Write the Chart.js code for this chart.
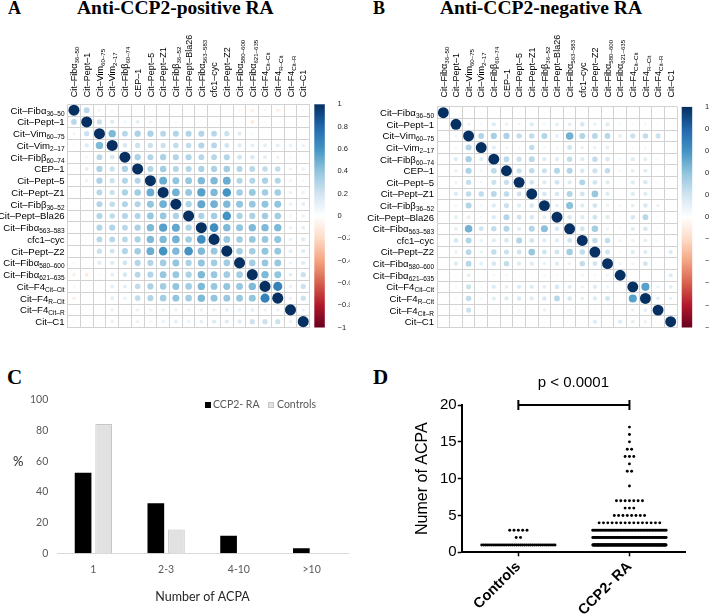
<!DOCTYPE html>
<html>
<head>
<meta charset="utf-8">
<title>ACPA correlation and counts</title>
<script src="https://cdn.jsdelivr.net/npm/chart.js@4.4.0/dist/chart.umd.min.js"></script>
<style>
    body { margin: 0; background: #fff; }
    #fig { position: relative; width: 709px; height: 614px; overflow: hidden; }
    #fig canvas { position: absolute; }
    .panel { position: absolute; font-family: "Liberation Serif", "Times New Roman", serif; font-weight: bold; white-space: nowrap; line-height: 1; color: #000; }
    .txt { position: absolute; white-space: nowrap; line-height: 1; }
    .key { position: absolute; width: 6px; height: 6px; }
</style>
</head>
<body>
<div id="fig">
    <div class="panel" style="left:8px; top:-1px; font-size:18px;">A</div>
    <div class="panel" style="left:77px; top:-2px; font-size:19.5px;">Anti-CCP2-positive RA</div>
    <div class="panel" style="left:373px; top:-1px; font-size:18px;">B</div>
    <div class="panel" style="left:440px; top:-2px; font-size:19.5px;">Anti-CCP2-negative RA</div>
    <div class="panel" style="left:7px; top:367px; font-size:21px;">C</div>
    <div class="panel" style="left:373px; top:367px; font-size:21px;">D</div>

    <canvas id="corr-pos" width="354" height="352" style="left:0; top:0;"></canvas>
    <canvas id="corr-neg" width="355" height="352" style="left:354px; top:0;"></canvas>
    <canvas id="acpa-bars" width="354" height="259" style="left:0; top:355px;"></canvas>
    <canvas id="acpa-dots" width="355" height="259" style="left:354px; top:355px;"></canvas>

    <!-- panel C extras -->
    <div class="txt" style="left:13px; top:455px; font-family:Lato, sans-serif; font-size:13px; color:#262626;">%</div>
    <div class="key" style="left:205px; top:402px; background:#000;"></div>
    <div class="txt" style="left:213px; top:399px; font-family:Lato, sans-serif; font-size:10.5px; color:#595959;">CCP2- RA</div>
    <div class="key" style="left:268px; top:402px; background:#e1e1e1; box-sizing:border-box; border:1px solid #c6c6c6;"></div>
    <div class="txt" style="left:277px; top:399px; font-family:Lato, sans-serif; font-size:10.5px; color:#595959;">Controls</div>
</div>

<script>
// --- Data ---

// antigen labels (main text + subscript)
const markerNames = ['Cit–Fibα', 'Cit–Pept–1', 'Cit–Vim', 'Cit–Vim', 'Cit–Fibβ', 'CEP–1', 'Cit–Pept–5', 'Cit–Pept–Z1',
    'Cit–Fibβ', 'Cit–Pept–Bla26', 'Cit–Fibα', 'cfc1–cyc', 'Cit–Pept–Z2', 'Cit–Fibα', 'Cit–Fibα', 'Cit–F4', 'Cit–F4', 'Cit–F4', 'Cit–C1'];
const markerSubs = ['36–50', '', '60–75', '2–17', '60–74', '', '', '', '36–52', '', '563–583', '', '', '580–600', '621–635',
    'Cit–Cit', 'R–Cit', 'Cit–R', ''];

// lower triangles of the correlation matrices (row i, columns 0..i-1)
const corrPositive = [
    [],
    [0.28],
    [0.07, 0.22],
    [0.05, 0.15, 0.45],
    [0.02, 0.07, 0.28, 0.18],
    [0.03, 0.12, 0.32, 0.22, 0.32],
    [0.03, 0.09, 0.32, 0.22, 0.30, 0.30],
    [-0.03, 0.04, 0.28, 0.22, 0.32, 0.35, 0.50],
    [0.02, 0.04, 0.30, 0.25, 0.30, 0.30, 0.40, 0.48],
    [0.02, 0.04, 0.30, 0.25, 0.30, 0.30, 0.38, 0.38, 0.32],
    [0.02, 0.03, 0.30, 0.30, 0.28, 0.32, 0.45, 0.55, 0.52, 0.32],
    [0.02, 0.03, 0.28, 0.28, 0.28, 0.32, 0.45, 0.45, 0.48, 0.35, 0.62],
    [-0.04, 0.02, 0.22, 0.20, 0.30, 0.35, 0.50, 0.60, 0.45, 0.60, 0.45, 0.38],
    [-0.05, 0.02, 0.14, 0.15, 0.20, 0.30, 0.30, 0.35, 0.40, 0.32, 0.40, 0.35, 0.35],
    [-0.10, -0.12, 0.05, 0.12, 0.17, 0.28, 0.30, 0.38, 0.38, 0.32, 0.45, 0.38, 0.35, 0.35],
    [-0.06, -0.04, 0.04, 0.12, 0.12, 0.25, 0.32, 0.35, 0.40, 0.35, 0.45, 0.38, 0.40, 0.38, 0.45],
    [-0.10, 0.02, 0.04, 0.12, 0.10, 0.25, 0.30, 0.35, 0.40, 0.35, 0.45, 0.40, 0.38, 0.38, 0.40, 0.68],
    [0.02, 0.02, 0.03, 0.10, 0.05, 0.10, 0.08, 0.10, 0.10, 0.08, 0.10, 0.10, 0.12, 0.10, 0.12, 0.10, 0.10],
    [-0.05, -0.03, 0.02, 0.10, 0.03, 0.10, 0.06, 0.10, 0.12, 0.10, 0.12, 0.15, 0.15, 0.15, 0.22, 0.22, 0.22, 0.10]
];

const corrNegative = [
    [],
    [0.01],
    [0.03, 0.08],
    [0.03, 0.06, 0.30],
    [0.02, 0.15, 0.33, 0.14],
    [0.03, 0.10, 0.32, 0.08, 0.27],
    [0.03, 0.08, 0.24, 0.06, 0.22, 0.23],
    [0.02, 0.15, 0.25, 0.25, 0.28, 0.26, 0.20],
    [0.03, 0.07, 0.30, 0.07, 0.15, 0.22, 0.15, 0.18],
    [0.02, 0.12, 0.12, 0.06, 0.15, 0.30, 0.20, 0.18, 0.12],
    [0.03, 0.12, 0.48, 0.20, 0.25, 0.30, 0.15, 0.30, 0.42, 0.18],
    [0.02, 0.18, 0.30, 0.10, 0.15, 0.18, 0.30, 0.20, 0.15, 0.15, 0.20],
    [0.02, 0.10, 0.28, 0.10, 0.25, 0.22, 0.20, 0.38, 0.20, 0.20, 0.35, 0.25],
    [0.02, 0.15, 0.28, 0.12, 0.18, 0.25, 0.15, 0.15, 0.10, 0.15, 0.10, 0.25, 0.20],
    [0.02, 0.05, 0.12, 0.03, 0.06, 0.06, 0.04, 0.04, 0.06, 0.05, 0.05, 0.08, 0.05, 0.08],
    [0.02, 0.05, 0.22, 0.05, 0.15, 0.12, 0.15, 0.15, 0.12, 0.18, 0.14, 0.10, 0.15, 0.08, 0.03],
    [0.02, 0.06, 0.25, 0.06, 0.13, 0.15, 0.17, 0.15, 0.17, 0.28, 0.18, 0.12, 0.15, 0.20, 0.03, 0.55],
    [0.02, 0.04, 0.22, 0.03, 0.05, 0.05, 0.05, 0.05, 0.10, 0.05, 0.05, 0.05, 0.05, 0.03, 0.03, 0.10, 0.12],
    [0.02, 0.02, 0.02, 0.03, 0.02, 0.03, 0.02, 0.02, 0.03, 0.02, 0.03, 0.02, 0.15, 0.02, 0.15, 0.12, 0.10, 0.02]
];

const colourbarTicks = [-1, -0.8, -0.6, -0.4, -0.2, 0, 0.2, 0.4, 0.6, 0.8, 1];

// panel C: % of positive individuals by number of ACPA
const acpaBins = ['1', '2-3', '4-10', '>10'];
const pctRA = [52.6, 32.6, 11.5, 3.3];
const pctControls = [84.3, 15.6, 0, 0];

// panel D: individuals per number of ACPA
const groups = ['Controls', 'CCP2- RA'];
const acpaCount = [1, 2, 3, 4, 5, 6, 7, 9, 11, 12, 13, 14, 15, 16, 17];
const nControls = [37, 2, 5, 0, 0, 0, 0, 0, 0, 0, 0, 0, 0, 0, 0];
const nRA = [175, 60, 49, 15, 8, 3, 7, 1, 2, 1, 3, 2, 1, 1, 1];

// --- Helpers ---

Chart.defaults.font.family = '"Liberation Sans", Arial, sans-serif';
Chart.defaults.animation = false;

// corrplot RdBu ramp, -1 .. 1
const rdbu = ['#67001F', '#B2182B', '#D6604D', '#F4A582', '#FDDBC7', '#FFFFFF',
    '#D1E5F0', '#92C5DE', '#4393C3', '#2166AC', '#053061'];

function hexToRgb(h) {
    const n = parseInt(h.slice(1), 16);
    return [n >> 16, (n >> 8) & 255, n & 255];
}

function corrColor(v) {
    const t = (v + 1) / 2 * (rdbu.length - 1);
    const i = Math.min(Math.floor(t), rdbu.length - 2);
    const f = t - i;
    const a = hexToRgb(rdbu[i]), b = hexToRgb(rdbu[i + 1]);
    return 'rgb(' + a.map((x, k) => Math.round(x + (b[k] - x) * f)).join(',') + ')';
}

function fullMatrix(lower) {
    const n = markerNames.length;
    const m = [];
    for (let i = 0; i < n; i++) {
        m.push([]);
        for (let j = 0; j < n; j++) {
            m[i].push(i === j ? 1 : (j < i ? lower[i][j] : lower[j][i]));
        }
    }
    return m;
}

// label with a subscript, starting at x0, vertically centred on y
function drawMarker(ctx, i, x0, y, size) {
    const base = y + size * 0.36;
    ctx.font = size + 'px "Liberation Sans", Arial, sans-serif';
    ctx.fillText(markerNames[i], x0, base);
    if (markerSubs[i]) {
        const w = ctx.measureText(markerNames[i]).width;
        ctx.font = (size * 0.68) + 'px "Liberation Sans", Arial, sans-serif';
        ctx.fillText(markerSubs[i], x0 + w, base + size * 0.22);
    }
}

function markerWidth(ctx, i, size) {
    ctx.font = size + 'px "Liberation Sans", Arial, sans-serif';
    let w = ctx.measureText(markerNames[i]).width;
    if (markerSubs[i]) {
        ctx.font = (size * 0.68) + 'px "Liberation Sans", Arial, sans-serif';
        w += ctx.measureText(markerSubs[i]).width;
    }
    return w;
}

// colour bar + row/column labels for the correlation plots
const corrDecor = {
    id: 'corrDecor',
    afterDraw(chart, args, opts) {
        const { ctx, chartArea: a, scales: { x, y, cb } } = chart;
        ctx.save();

        const top = cb.getPixelForValue(1), bot = cb.getPixelForValue(-1);
        const g = ctx.createLinearGradient(0, top, 0, bot);
        rdbu.forEach((c, i) => g.addColorStop(1 - i / (rdbu.length - 1), c));
        ctx.fillStyle = g;
        ctx.fillRect(a.right + 4.7, top, 10.5, bot - top);

        ctx.fillStyle = '#000';
        ctx.textAlign = 'left';
        ctx.textBaseline = 'alphabetic';
        markerNames.forEach((_, i) => {
            const w = markerWidth(ctx, i, 9.6);
            drawMarker(ctx, i, a.left - 3 - w, y.getPixelForValue(i + 1), 9.6);
        });
        markerNames.forEach((_, j) => {
            ctx.save();
            ctx.translate(x.getPixelForValue(j + 1), a.top - opts.colGap);
            ctx.rotate(-Math.PI / 2);
            drawMarker(ctx, j, 0, 0, 9);
            ctx.restore();
        });
        ctx.restore();
    }
};

// circle area follows |r| (corrplot "circle" method)
function cellRadius(ctx) {
    const sx = ctx.chart.scales.x, sy = ctx.chart.scales.y;
    const cell = Math.min(Math.abs(sx.getPixelForValue(2) - sx.getPixelForValue(1)),
        Math.abs(sy.getPixelForValue(2) - sy.getPixelForValue(1)));
    const r = 0.47 * cell * Math.sqrt(Math.abs(ctx.raw ? ctx.raw.v : 0));
    return isFinite(r) ? r : 0;
}

function renderCorr(canvasId, lower, padding, cbWidth, colGap) {
    const m = fullMatrix(lower);
    const n = markerNames.length;
    const points = [];
    m.forEach((row, i) => row.forEach((v, j) => points.push({ x: j + 1, y: i + 1, v: v })));
    const edges = markerNames.map((_, i) => i + 0.5).concat(n + 0.5);

    const cellScale = (min, max, pos, size) => ({
        type: 'linear', min: min, max: max, position: pos,
        afterBuildTicks: s => { s.ticks = edges.map(v => ({ value: v })); },
        afterFit: s => { s[size] = 0; },
        ticks: { display: false },
        grid: { color: '#d2d2d2', drawTicks: false },
        border: { display: false }
    });

    return new Chart(document.getElementById(canvasId), {
        type: 'scatter',
        data: {
            datasets: [{
                data: points,
                pointRadius: cellRadius,
                pointHoverRadius: cellRadius,
                pointBackgroundColor: ctx => corrColor(ctx.raw ? ctx.raw.v : 0),
                pointBorderWidth: 0,
                clip: false
            }]
        },
        options: {
            responsive: false,
            events: [],
            layout: { padding: padding },
            scales: {
                x: cellScale(0.5, n + 0.5, 'bottom', 'height'),
                y: Object.assign(cellScale(0.5, n + 0.5, 'left', 'width'), { reverse: true }),
                cb: {
                    type: 'linear', position: 'right', min: -1, max: 1,
                    afterBuildTicks: s => { s.ticks = colourbarTicks.map(v => ({ value: v })); },
                    afterFit: s => { s.width = cbWidth; },
                    grid: { display: false },
                    border: { display: false },
                    ticks: {
                        autoSkip: false, padding: 20, color: '#222', font: { size: 7.5 },
                        callback: v => (v < 0 ? '−' : '') + Math.abs(Number(v.toFixed(1)))
                    }
                }
            },
            plugins: { legend: { display: false }, tooltip: { enabled: false }, corrDecor: { colGap: colGap } }
        },
        plugins: [corrDecor]
    });
}

// --- Panels A and B ---
renderCorr('corr-pos', corrPositive, { left: 67.6, top: 104.3, right: 4.4, bottom: 5.6 }, 40, 7);
renderCorr('corr-neg', corrNegative, { left: 83, top: 106.9, right: 0, bottom: 2.9 }, 32, 9.5);

// --- Panel C ---
const greyTick = { family: 'Lato, sans-serif', size: 10.5 };
new Chart(document.getElementById('acpa-bars'), {
    type: 'bar',
    data: {
        labels: acpaBins,
        datasets: [
            { label: 'CCP2- RA', data: pctRA, backgroundColor: '#000' },
            { label: 'Controls', data: pctControls, backgroundColor: '#e1e1e1', borderColor: '#c6c6c6', borderWidth: 1 }
        ]
    },
    options: {
        responsive: false,
        events: [],
        categoryPercentage: 0.566,
        barPercentage: 0.81,
        layout: { padding: { left: 0, top: 45, right: 6, bottom: 0 } },
        scales: {
            x: {
                grid: { display: false, drawTicks: false },
                border: { color: '#d9d9d9', width: 1 },
                ticks: { font: greyTick, color: '#595959', padding: 10 },
                title: { display: true, text: 'Number of ACPA', color: '#262626',
                    font: { family: 'Lato, sans-serif', size: 12.5 }, padding: { top: 0, bottom: 10 } },
                afterFit: s => { s.height = 60.7; }
            },
            y: {
                min: 0, max: 100,
                ticks: { stepSize: 20, font: greyTick, color: '#595959', padding: 8.7 },
                grid: { display: false, drawTicks: false },
                border: { display: false },
                afterFit: s => { s.width = 57; }
            }
        },
        plugins: { legend: { display: false }, tooltip: { enabled: false } }
    }
});

// --- Panel D ---
// spread each count into a horizontal row of dots around the group centre
const dotStep = 0.039, spreadMax = 0.66;
function dotRows(counts, centre) {
    const pts = [];
    acpaCount.forEach((v, k) => {
        const n = counts[k];
        if (!n) return;
        const step = n > 1 ? Math.min(dotStep, spreadMax / (n - 1)) : 0;
        for (let i = 0; i < n; i++) pts.push({ x: centre + (i - (n - 1) / 2) * step, y: v });
    });
    return pts;
}

const blackTicks = { display: true, drawOnChartArea: false, drawTicks: true, tickLength: 4, tickColor: '#000', tickWidth: 1.5 };
new Chart(document.getElementById('acpa-dots'), {
    type: 'scatter',
    data: {
        datasets: [
            { label: groups[0], data: dotRows(nControls, 1), pointRadius: 1.45, backgroundColor: '#000', borderWidth: 0 },
            { label: groups[1], data: dotRows(nRA, 2), pointRadius: 1.45, backgroundColor: '#000', borderWidth: 0 },
            {
                label: 'p', data: [{ x: 1, y: 20 }, { x: 2, y: 20 }], showLine: true, clip: false,
                borderColor: '#000', borderWidth: 2,
                pointStyle: 'line', pointRotation: 90, pointRadius: 5, pointBorderColor: '#000', pointBorderWidth: 2
            }
        ]
    },
    options: {
        responsive: false,
        events: [],
        layout: { padding: { left: 50, right: 24, top: 0, bottom: 0 } },
        scales: {
            x: {
                type: 'linear', min: 0.49, max: 2.5,
                afterBuildTicks: s => { s.ticks = groups.map((_, i) => ({ value: i + 1 })); },
                afterFit: s => { s.height = 61.7; },
                ticks: { callback: (v, i) => groups[i], minRotation: 45, maxRotation: 45, padding: 2,
                    color: '#000', font: { size: 14.5, weight: 'bold' } },
                grid: blackTicks,
                border: { color: '#000', width: 2 }
            },
            y: {
                min: 0, max: 20,
                ticks: { stepSize: 5, padding: 1, color: '#000', font: { size: 15 } },
                grid: blackTicks,
                border: { color: '#000', width: 2 },
                title: { display: true, text: 'Numer of ACPA', color: '#000', font: { size: 16 }, padding: { top: 9.4, bottom: 0 } },
                afterFit: s => { s.width = 57.7; }
            }
        },
        plugins: {
            legend: { display: false },
            tooltip: { enabled: false },
            title: { display: true, text: 'p < 0.0001', fullSize: false, color: '#000',
                font: { size: 15, weight: 'normal' }, padding: { top: 19, bottom: 13 } }
        }
    }
});
</script>
</body>
</html>
